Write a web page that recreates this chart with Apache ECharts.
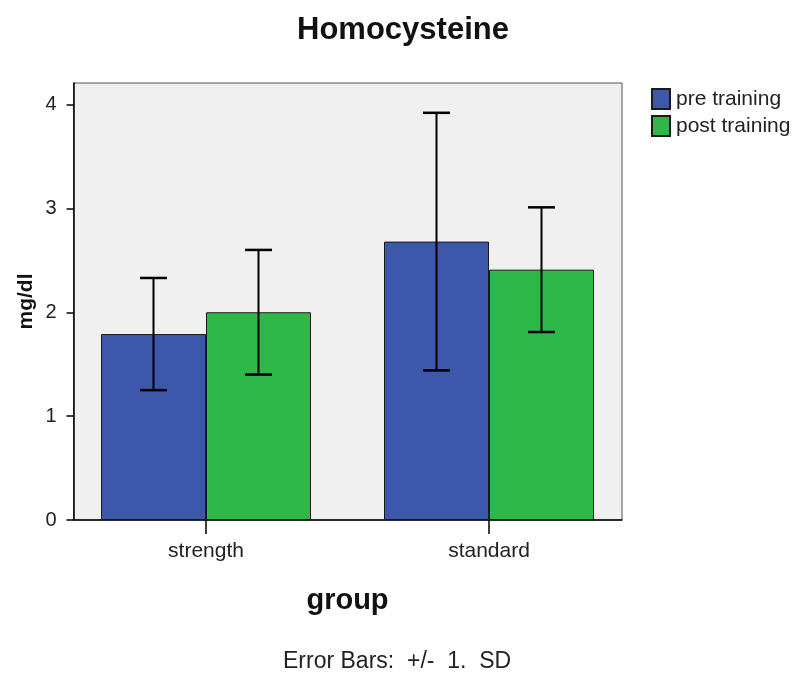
<!DOCTYPE html>
<html>
<head>
<meta charset="utf-8">
<title>Homocysteine</title>
<script src="https://cdn.jsdelivr.net/npm/echarts@6/dist/echarts.min.js"></script>
<style>
  html, body { margin: 0; padding: 0; background: #fff; }
  #chart { width: 797px; height: 675px; }
</style>
</head>
<body>
<div id="chart"></div>
<script>
// data
var groups      = ['strength', 'standard'];
var seriesNames = ['pre training', 'post training'];
var preMean     = [1.79, 2.68];
var preSD       = [0.54, 1.24];
var postMean    = [2.00, 2.41];
var postSD      = [0.60, 0.60];
var yTicks      = [0, 1, 2, 3, 4];

var colors   = ['#3d57aa', '#2fb84a'];
var BAR_W    = 105;
var CAP_W    = 27;
var FONT     = 'Liberation Sans, Arial, sans-serif';

var chart = echarts.init(document.getElementById('chart'), null, { renderer: 'canvas' });

// error bar (+/- 1 SD) drawn as a custom series next to each bar
function errorSeries(name, means, sds, side) {
    var data = means.map(function (m, i) { return [i, m - sds[i], m + sds[i]]; });
    return {
        type: 'custom',
        name: name,
        xAxisIndex: 1,
        yAxisIndex: 1,
        z: 10,
        silent: true,
        data: data,
        renderItem: function (params, api) {
            var lo = api.coord([api.value(0), api.value(1)]);
            var hi = api.coord([api.value(0), api.value(2)]);
            var x  = lo[0] + side * BAR_W / 2;
            var st = { stroke: '#000', lineWidth: 2 };
            var cap = { stroke: '#000', lineWidth: 2.5 };
            return {
                type: 'group',
                children: [
                    { type: 'line', shape: { x1: x, y1: lo[1], x2: x, y2: hi[1] }, style: st },
                    { type: 'line', shape: { x1: x - CAP_W / 2, y1: hi[1], x2: x + CAP_W / 2, y2: hi[1] }, style: cap },
                    { type: 'line', shape: { x1: x - CAP_W / 2, y1: lo[1], x2: x + CAP_W / 2, y2: lo[1] }, style: cap }
                ]
            };
        }
    };
}

var option = {
    animation: false,
    textStyle: { fontFamily: FONT },
    title: {
        text: 'Homocysteine',
        left: 398,
        top: 10,
        textAlign: 'center',
        textStyle: { fontFamily: FONT, fontSize: 31, fontWeight: 'bold', color: '#111' }
    },
    legend: {
        orient: 'vertical',
        left: 646,
        top: 83,
        itemWidth: 18,
        itemHeight: 20,
        itemGap: 5,
        icon: 'rect',
        data: seriesNames,
        textStyle: { fontFamily: FONT, fontSize: 21, color: '#222', padding: [3, 0, 0, 1] }
    },
    graphic: [{
        type: 'text',
        left: 283,
        top: 650,
        style: {
            text: 'Error Bars:  +/-  1.  SD',
            fill: '#222',
            font: '23px ' + FONT
        }
    }],
    grid: [
        // frame + grey background
        { left: 73.5, top: 83, width: 548.5, height: 437, show: true,
          backgroundColor: '#f0f0f0', borderColor: '#555', borderWidth: 1 },
        // data area
        { left: 64.5, top: 104.5, width: 566, height: 415.5 }
    ],
    xAxis: [
        { type: 'value', gridIndex: 0, min: 0, max: 1,
          axisLine: { show: true, onZero: false, lineStyle: { color: '#000', width: 1.5 } },
          axisTick: { show: false }, axisLabel: { show: false }, splitLine: { show: false } },
        { type: 'category', gridIndex: 1, data: groups,
          axisLine: { show: false },
          axisTick: { show: true, alignWithLabel: true, length: 14, lineStyle: { color: '#000', width: 1.5 } },
          axisLabel: { fontFamily: FONT, fontSize: 21, color: '#222', margin: 21 },
          name: 'group',
          nameLocation: 'middle',
          nameGap: 66,
          nameTextStyle: { fontFamily: FONT, fontSize: 29, fontWeight: 'bold', color: '#111' } }
    ],
    yAxis: [
        { type: 'value', gridIndex: 0, min: 0, max: 1,
          axisLine: { show: true, onZero: false, lineStyle: { color: '#000', width: 1.5 } },
          axisTick: { show: false }, axisLabel: { show: false }, splitLine: { show: false },
          name: 'mg/dl',
          nameLocation: 'middle',
          nameGap: 37,
          nameRotate: 90,
          nameTextStyle: { fontFamily: FONT, fontSize: 21, fontWeight: 'bold', color: '#111' } },
        { type: 'value', gridIndex: 1, min: 0, max: 4, interval: 1,
          offset: -9,
          axisLine: { show: false },
          axisTick: { show: true, length: 7, lineStyle: { color: '#000', width: 1.5 } },
          axisLabel: { fontFamily: FONT, fontSize: 20, color: '#222', margin: 17,
                       formatter: function (v) { return yTicks.indexOf(v) >= 0 ? String(v) : ''; } },
          splitLine: { show: false } }
    ],
    series: [
        { type: 'bar', name: seriesNames[0], xAxisIndex: 1, yAxisIndex: 1,
          data: preMean, barWidth: BAR_W, barGap: '0%',
          itemStyle: { color: colors[0], borderColor: '#1a1a1a', borderWidth: 1 } },
        { type: 'bar', name: seriesNames[1], xAxisIndex: 1, yAxisIndex: 1,
          data: postMean, barWidth: BAR_W, barGap: '0%',
          itemStyle: { color: colors[1], borderColor: '#1a1a1a', borderWidth: 1 } },
        errorSeries('pre SD', preMean, preSD, -1),
        errorSeries('post SD', postMean, postSD, 1)
    ]
};

chart.setOption(option);
</script>
</body>
</html>
